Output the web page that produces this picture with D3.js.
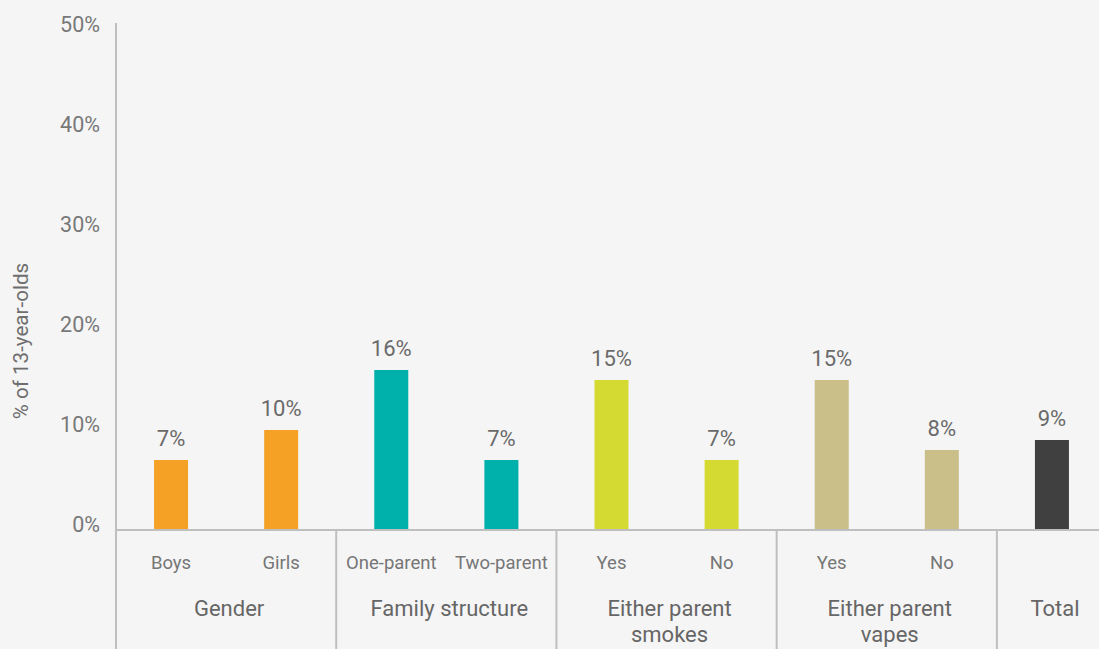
<!DOCTYPE html>
<html>
<head>
<meta charset="utf-8">
<script src="https://cdn.jsdelivr.net/npm/d3@7"></script>
<style>
  html, body { margin: 0; padding: 0; background: #f5f5f5; }
  svg { display: block; font-family: Roboto, "Noto Sans", sans-serif; }
</style>
</head>
<body>
<svg id="chart" width="1099" height="649"></svg>
<script>
// Share of 13-year-olds, by subgroup
const categories = ["Boys", "Girls", "One-parent", "Two-parent", "Yes", "No", "Yes", "No", ""];
const groups = ["Gender", "Gender", "Family structure", "Family structure",
                "Either parent smokes", "Either parent smokes",
                "Either parent vapes", "Either parent vapes", "Total"];
const values = [7, 10, 16, 7, 15, 7, 15, 8, 9];
const groupNames = ["Gender", "Family structure", "Either parent smokes", "Either parent vapes", "Total"];
const groupLines = [["Gender"], ["Family structure"], ["Either parent", "smokes"], ["Either parent", "vapes"], ["Total"]];
const groupColors = ["#f5a126", "#00b0aa", "#d5da32", "#cbbf89", "#404040"];
const yTicks = [0, 10, 20, 30, 40, 50];

const svg = d3.select("#chart");
const left = 116, right = 1107, baseY = 530, topY = 30;

const x = d3.scaleBand().domain(d3.range(categories.length)).range([left, right]).padding(0);
const y = d3.scaleLinear().domain([0, 50]).range([baseY, topY]);
const color = d3.scaleOrdinal().domain(groupNames).range(groupColors);
const barW = 34;

// y tick labels (drawn slightly above each tick position)
svg.append("g").selectAll("text").data(yTicks).join("text")
  .attr("x", 100).attr("y", d => y(d) - 6).attr("dy", "0.35em")
  .attr("text-anchor", "end").attr("font-size", 21.5).attr("fill", "#787878")
  .text(d => d + "%");

// y axis title
svg.append("text")
  .attr("transform", "translate(28," + 341 + ") rotate(-90)")
  .attr("text-anchor", "middle").attr("font-size", 20.6).attr("fill", "#6e6e6e")
  .text("% of 13-year-olds");

// bars
const idx = d3.range(categories.length);
svg.append("g").selectAll("rect").data(idx).join("rect")
  .attr("x", i => x(i) + x.bandwidth() / 2 - barW / 2)
  .attr("width", barW)
  .attr("y", i => y(values[i]))
  .attr("height", i => y(0) - y(values[i]))
  .attr("fill", i => color(groups[i]));

// value labels
svg.append("g").selectAll("text").data(idx).join("text")
  .attr("x", i => x(i) + x.bandwidth() / 2)
  .attr("y", i => y(values[i]) - 14)
  .attr("text-anchor", "middle").attr("font-size", 22).attr("fill", "#6a6a6a")
  .text(i => d3.format(".0f")(values[i]) + "%");

// axis lines
svg.append("line").attr("x1", left).attr("x2", 1099).attr("y1", baseY).attr("y2", baseY)
  .attr("stroke", "#bfbfbf").attr("stroke-width", 2);
svg.append("line").attr("x1", left).attr("x2", left).attr("y1", 23).attr("y2", 649)
  .attr("stroke", "#bfbfbf").attr("stroke-width", 2);

// group dividers below the axis
const groupSpans = groupNames.map(g => {
  const members = idx.filter(i => groups[i] === g);
  return { name: g, x0: x(members[0]), x1: x(members[members.length - 1]) + x.bandwidth() };
});
svg.append("g").selectAll("line").data(groupSpans.slice(0, -1)).join("line")
  .attr("x1", d => d.x1).attr("x2", d => d.x1)
  .attr("y1", baseY).attr("y2", 649)
  .attr("stroke", "#bfbfbf").attr("stroke-width", 2);

// category labels
svg.append("g").selectAll("text").data(idx).join("text")
  .attr("x", i => x(i) + x.bandwidth() / 2).attr("y", 569)
  .attr("text-anchor", "middle").attr("font-size", 18.5).attr("fill", "#767676")
  .text(i => categories[i]);

// group labels
const gl = svg.append("g").selectAll("text").data(groupSpans).join("text")
  .attr("text-anchor", "middle").attr("font-size", 22).attr("fill", "#666666");
gl.each(function(d, k) {
  const cx = (d.x0 + d.x1) / 2 + 3;
  const t = d3.select(this);
  groupLines[k].forEach((line, j) => {
    t.append("tspan").attr("x", cx).attr("y", 616 + j * 26).text(line);
  });
});
</script>
</body>
</html>
